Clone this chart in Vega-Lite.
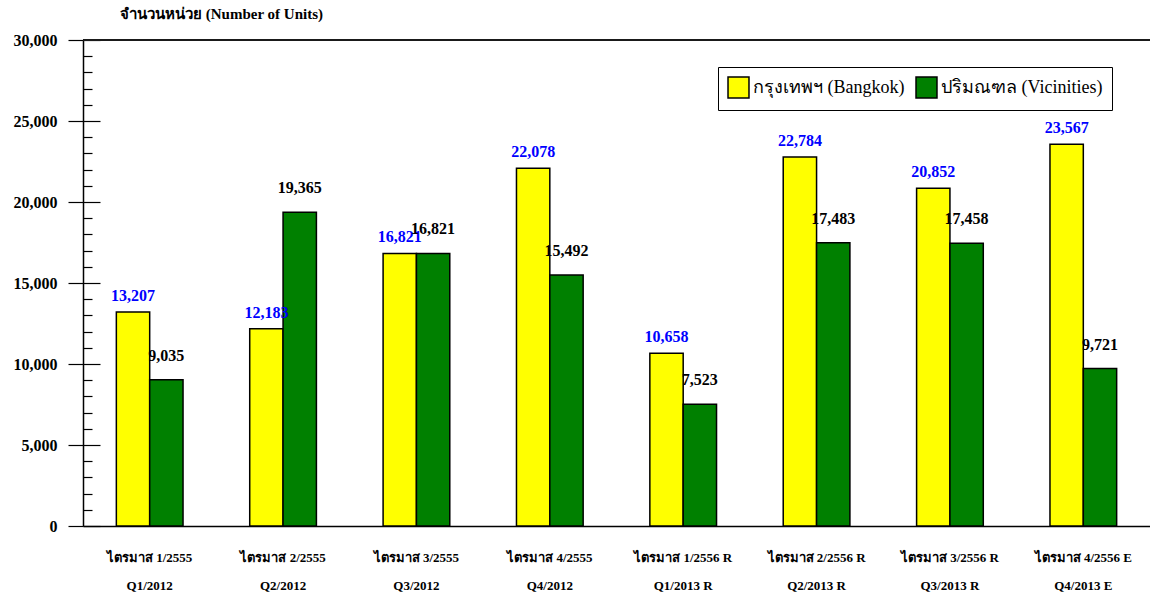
{
  "$schema": "https://vega.github.io/schema/vega-lite/v6.json",
  "autosize": {"type": "none"},
  "width": 1067,
  "height": 486,
  "padding": {"left": 83, "top": 40, "right": 0, "bottom": 71},
  "background": "white",
  "title": {
    "text": "จำนวนหน่วย (Number of Units)",
    "anchor": "start",
    "frame": "group",
    "dx": 37,
    "offset": 10,
    "font": "Liberation Serif",
    "fontSize": 15,
    "fontWeight": "bold",
    "color": "#000000"
  },
  "config": {
    "view": {"stroke": null},
    "font": "Liberation Serif"
  },
  "data": {
    "values": [
      {"q": "ไตรมาส 1/2555|Q1/2012", "series": "กรุงเทพฯ (Bangkok)", "value": 13207},
      {"q": "ไตรมาส 1/2555|Q1/2012", "series": "ปริมณฑล (Vicinities)", "value": 9035},
      {"q": "ไตรมาส 2/2555|Q2/2012", "series": "กรุงเทพฯ (Bangkok)", "value": 12183},
      {"q": "ไตรมาส 2/2555|Q2/2012", "series": "ปริมณฑล (Vicinities)", "value": 19365},
      {"q": "ไตรมาส 3/2555|Q3/2012", "series": "กรุงเทพฯ (Bangkok)", "value": 16821},
      {"q": "ไตรมาส 3/2555|Q3/2012", "series": "ปริมณฑล (Vicinities)", "value": 16821},
      {"q": "ไตรมาส 4/2555|Q4/2012", "series": "กรุงเทพฯ (Bangkok)", "value": 22078},
      {"q": "ไตรมาส 4/2555|Q4/2012", "series": "ปริมณฑล (Vicinities)", "value": 15492},
      {"q": "ไตรมาส 1/2556 R|Q1/2013 R", "series": "กรุงเทพฯ (Bangkok)", "value": 10658},
      {"q": "ไตรมาส 1/2556 R|Q1/2013 R", "series": "ปริมณฑล (Vicinities)", "value": 7523},
      {"q": "ไตรมาส 2/2556 R|Q2/2013 R", "series": "กรุงเทพฯ (Bangkok)", "value": 22784},
      {"q": "ไตรมาส 2/2556 R|Q2/2013 R", "series": "ปริมณฑล (Vicinities)", "value": 17483},
      {"q": "ไตรมาส 3/2556 R|Q3/2013 R", "series": "กรุงเทพฯ (Bangkok)", "value": 20852},
      {"q": "ไตรมาส 3/2556 R|Q3/2013 R", "series": "ปริมณฑล (Vicinities)", "value": 17458},
      {"q": "ไตรมาส 4/2556 E|Q4/2013 E", "series": "กรุงเทพฯ (Bangkok)", "value": 23567},
      {"q": "ไตรมาส 4/2556 E|Q4/2013 E", "series": "ปริมณฑล (Vicinities)", "value": 9721}
    ]
  },
  "layer": [
    {
      "mark": {"type": "bar", "stroke": "#000000", "strokeWidth": 1.5},
      "encoding": {
        "x": {
          "field": "q", "type": "nominal", "sort": null,
          "scale": {"paddingInner": 0.5, "paddingOuter": 0.25},
          "axis": {
            "title": null,
            "labelAngle": 0,
            "labelExpr": "split(datum.label, '|')",
            "labelFont": "Liberation Serif",
            "labelFontSize": 13,
            "labelFontWeight": "bold",
            "labelColor": "#000000",
            "labelLineHeight": 28,
            "labelPadding": 25,
            "ticks": false,
            "domainColor": "#000000",
            "domainWidth": 1.5
          }
        },
        "xOffset": {
          "field": "series", "type": "nominal",
          "sort": ["กรุงเทพฯ (Bangkok)", "ปริมณฑล (Vicinities)"],
          "scale": {"paddingInner": 0, "paddingOuter": 0}
        },
        "y": {
          "field": "value", "type": "quantitative",
          "scale": {"domain": [0, 30000], "nice": false},
          "axis": {
            "title": null,
            "orient": "left",
            "values": [0, 5000, 10000, 15000, 20000, 25000, 30000],
            "format": ",d",
            "grid": false,
            "tickSize": 15,
            "tickColor": "#000000",
            "tickWidth": 1.2,
            "labelPadding": 11,
            "labelFont": "Liberation Serif",
            "labelFontSize": 16,
            "labelFontWeight": "bold",
            "labelColor": "#000000",
            "domainColor": "#000000",
            "domainWidth": 1.5
          }
        },
        "color": {
          "field": "series", "type": "nominal",
          "scale": {
            "domain": ["กรุงเทพฯ (Bangkok)", "ปริมณฑล (Vicinities)"],
            "range": ["#FFFF00", "#008000"]
          },
          "legend": {
            "title": null,
            "orient": "none",
            "legendX": 635,
            "legendY": 27,
            "direction": "horizontal",
            "strokeColor": "#000000",
            "fillColor": "#FFFFFF",
            "padding": 9,
            "symbolType": "square",
            "symbolSize": 440,
            "symbolStrokeColor": "#000000",
            "symbolStrokeWidth": 1.5,
            "symbolOpacity": 1,
            "labelFont": "Liberation Serif",
            "labelFontSize": 18,
            "labelColor": "#000000",
            "labelOffset": 3,
            "labelLimit": 300,
            "columnPadding": 8
          }
        }
      }
    },
    {
      "transform": [{"filter": "datum.series === 'กรุงเทพฯ (Bangkok)'"}],
      "mark": {"type": "text", "baseline": "bottom", "dy": -8, "fontSize": 16, "fontWeight": "bold", "font": "Liberation Serif", "color": "#0000FF"},
      "encoding": {
        "x": {"field": "q", "type": "nominal", "sort": null},
        "xOffset": {"field": "series", "type": "nominal", "sort": ["กรุงเทพฯ (Bangkok)", "ปริมณฑล (Vicinities)"]},
        "y": {
          "field": "value", "type": "quantitative",
          "axis": {
            "orient": "left",
            "title": null,
            "values": [0, 5000, 10000, 15000, 20000, 25000, 30000],
            "labels": false,
            "domain": false,
            "grid": false,
            "tickSize": -17,
            "tickColor": "#000000",
            "tickWidth": 1.2
          }
        },
        "text": {"field": "value", "type": "quantitative", "format": ",d"}
      }
    },
    {
      "transform": [{"filter": "datum.series === 'ปริมณฑล (Vicinities)'"}],
      "mark": {"type": "text", "baseline": "bottom", "dy": -16, "fontSize": 16, "fontWeight": "bold", "font": "Liberation Serif", "color": "#000000"},
      "encoding": {
        "x": {"field": "q", "type": "nominal", "sort": null},
        "xOffset": {"field": "series", "type": "nominal", "sort": ["กรุงเทพฯ (Bangkok)", "ปริมณฑล (Vicinities)"]},
        "y": {"field": "value", "type": "quantitative", "axis": null},
        "text": {"field": "value", "type": "quantitative", "format": ",d"}
      }
    },
    {
      "mark": {"type": "rule", "color": "#1a1a1a", "strokeWidth": 2},
      "encoding": {
        "y": {
          "datum": 30000, "type": "quantitative",
          "axis": {
            "orient": "left",
            "title": null,
            "values": [1000, 2000, 3000, 4000, 6000, 7000, 8000, 9000, 11000, 12000, 13000, 14000, 16000, 17000, 18000, 19000, 21000, 22000, 23000, 24000, 26000, 27000, 28000, 29000],
            "labels": false,
            "domain": false,
            "grid": false,
            "tickSize": -9,
            "tickColor": "#000000",
            "tickWidth": 1.2
          }
        }
      }
    }
  ],
  "resolve": {"axis": {"y": "independent"}}
}
